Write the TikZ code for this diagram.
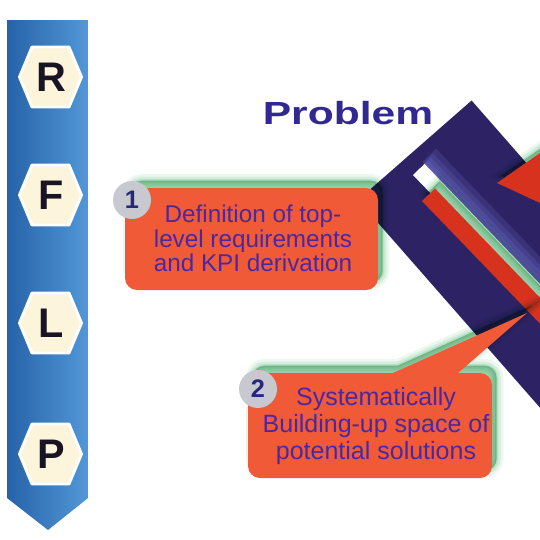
\documentclass[tikz,border=0pt]{standalone}
\usepackage{fontspec}
\setmainfont{Liberation Sans}
\usepackage{tikz}
\usepackage{graphicx}
\definecolor{glowgreen}{RGB}{150,212,172}

\begin{document}
\begin{tikzpicture}[x=0.75pt,y=0.75pt,yscale=-1,xscale=1,
  glow/.style={preaction={fill=glowgreen,draw=glowgreen,line width=10pt,opacity=0.18,blend mode=multiply,transform canvas={shift={(3.5pt,5.5pt)}}},
    preaction={fill=glowgreen,draw=glowgreen,line width=6pt,opacity=0.25,blend mode=multiply,transform canvas={shift={(3.5pt,5.5pt)}}},
    preaction={fill=glowgreen,draw=glowgreen,line width=2.5pt,opacity=0.3,blend mode=multiply,transform canvas={shift={(3.5pt,5.5pt)}}},
    preaction={fill=glowgreen,opacity=0.4,blend mode=multiply,transform canvas={shift={(3.5pt,5.5pt)}}}},
  lilac/.style={fill={rgb,255:red,125;green,125;blue,225},opacity=0.18},
  hexa/.style={fill={rgb,255:red,253;green,244;blue,220},draw=white,line width=2.2pt,line join=round},
  letter/.style={inner sep=0pt,font=\fontsize{31}{31}\selectfont\bfseries,text={rgb,255:red,25;green,20;blue,35}},
  numdot/.style={circle,inner sep=0pt,minimum size=28.5pt,fill={rgb,255:red,200;green,200;blue,208},font=\fontsize{19}{19}\selectfont\bfseries,text={rgb,255:red,40;green,40;blue,120}},
  boxtext/.style={align=center,inner sep=0pt,text={rgb,255:red,75;green,40;blue,160}}
]
\useasboundingbox (0,0) rectangle (540,540);
\clip (0,0) rectangle (540,540);

%Shape: Arrow [id:blue_rflp]
\shade [left color={rgb,255:red,38;green,98;blue,168},right color={rgb,255:red,82;green,152;blue,216}] (7,20) -- (88,20) -- (88,498) -- (48,530) -- (7,498) -- cycle ;

%Shape: Hexagon [id:hex_r]
\draw [hexa] (19.5,77) -- (32,47) -- (69,47) -- (81.5,77) -- (69,107) -- (32,107) -- cycle ;
%Shape: Hexagon [id:hex_f]
\draw [hexa] (19.5,195) -- (32,165) -- (69,165) -- (81.5,195) -- (69,225) -- (32,225) -- cycle ;
%Shape: Hexagon [id:hex_l]
\draw [hexa] (19.5,323) -- (32,293) -- (69,293) -- (81.5,323) -- (69,353) -- (32,353) -- cycle ;
%Shape: Hexagon [id:hex_p]
\draw [hexa] (19.5,454) -- (32,424) -- (69,424) -- (81.5,454) -- (69,484) -- (32,484) -- cycle ;

% Text Node
\node (req) [letter] at (51,77) {R};
% Text Node
\node (func) [letter] at (51,195) {F};
% Text Node
\node (logi) [letter] at (51,323) {L};
% Text Node
\node (phys) [letter] at (51,454) {P};

%Shape: Rectangle [id:navy_band]
\fill [color={rgb,255:red,45;green,35;blue,100}] (358,200) -- (471.6,100.5) -- (702.3,363.7) -- (588.7,463.2) -- cycle ;
%Shape: Rectangle [id:slit_glow]
\fill [lilac] (422.4,161.8) -- (436,148.7) -- (588.5,307.3) -- (577,322.5) -- cycle ;
\fill [lilac] (423.1,163.2) -- (433.1,153.5) -- (585.6,312.1) -- (577,322.5) -- cycle ;
\fill [lilac] (424.5,163.9) -- (431,157.7) -- (583.5,316.3) -- (577,322.5) -- cycle ;
\fill [lilac] (424.5,163.9) -- (428.1,160.4) -- (580.6,319) -- (577,322.5) -- cycle ;
\fill [lilac] (424.5,163.9) -- (426,162.5) -- (578.5,321.1) -- (577,322.5) -- cycle ;
%Shape: Rectangle [id:white_slit]
\fill [color=white] (413,175) -- (424.5,163.9) -- (577,322.5) -- (565.5,333.6) -- cycle ;
%Shape: Rectangle [id:red_bar]
\path [glow,fill={rgb,255:red,215;green,50;blue,30}] (422,201) -- (435,188.5) -- (587.5,347.1) -- (574.5,359.6) -- cycle ;
%Shape: Triangle [id:red_tri]
\path [glow,fill={rgb,255:red,215;green,50;blue,30}] (497,183) -- (560,139) -- (560,212.3) -- cycle ;

%Rounded Rect [id:box_req]
\path [glow,fill={rgb,255:red,240;green,90;blue,55},rounded corners=9pt] (125,188) rectangle (378,290) ;
%Speech Bubble [id:box_sol]
\path [glow,fill={rgb,255:red,240;green,90;blue,55},rounded corners=9pt] (370,478) -- (248,478) -- (248,373) [sharp corners] -- (393,373) -- (527,313) -- (458,373) [rounded corners=9pt] -- (492,373) -- (492,478) -- cycle ;

% Text Node
\node (one) [numdot] at (132,200) {1};
% Text Node
\node (two) [numdot] at (258,389) {2};

% Text Node
\node (reqtext) [boxtext,font=\fontsize{18.2}{18.4}\selectfont] at (253,238.5) {Definition of top-\\level requirements\\and KPI derivation};
% Text Node
\node (soltext) [boxtext,font=\fontsize{18.75}{20.6}\selectfont] at (376,426) {Systematically\\Building-up space of\\potential solutions};
% Text Node
\node (prob) [anchor=base,inner sep=0pt,font=\fontsize{24}{24}\selectfont\bfseries,text={rgb,255:red,50;green,40;blue,145}] at (348,124) {\scalebox{1.33}[1]{Problem}};

\end{tikzpicture}
\end{document}
